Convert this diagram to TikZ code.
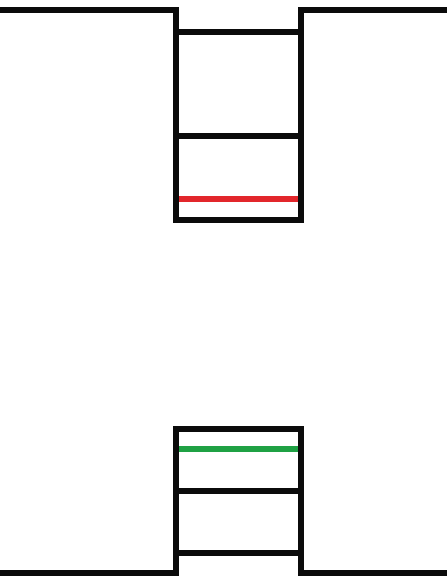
\documentclass[tikz,border=0pt]{standalone}
\usepackage{tikz}
\definecolor{cred}{HTML}{E2262B}
\definecolor{cgreen}{HTML}{1FA144}
\definecolor{cink}{HTML}{0B0B0B}

\begin{document}
\begin{tikzpicture}[x=1pt,y=-1pt,line width=6.5pt,
    wall/.style={cink,line join=miter},
    bar/.style={cink},
    level/.style={line width=6pt}]
        \useasboundingbox (0,0) rectangle (447,577);
        % upper well, hanging from the top line
        \draw[wall] (0,10) -- (176,10) -- (176,220) -- (301,220) -- (301,10) -- (447,10);
        \draw[bar] (176,32) -- (301,32);
        \draw[bar] (176,136) -- (301,136);
        \draw[level,cred] (179,199) -- (298,199);
        % lower well, standing on the bottom line
        \draw[wall] (0,573) -- (176,573) -- (176,429) -- (301,429) -- (301,573) -- (447,573);
        \draw[level,cgreen] (179,449) -- (298,449);
        \draw[bar] (176,491) -- (301,491);
        \draw[bar] (176,553) -- (301,553);
      \end{tikzpicture}
\end{document}
